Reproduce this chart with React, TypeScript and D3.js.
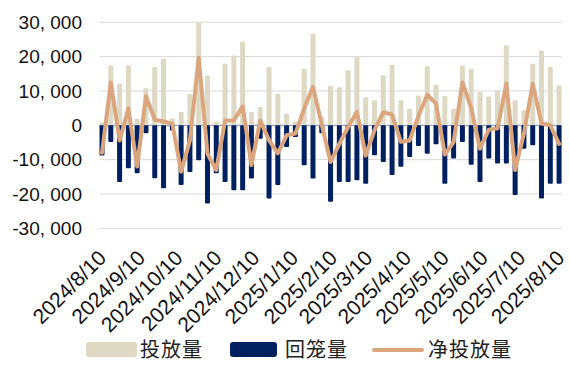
import React, { useEffect, useRef } from 'react';
import * as d3 from 'd3';

// weekly open-market operations, 2024/8 - 2025/8 (亿元)
const injection = [
  800, 17400, 12100, 17400, 2000, 10800, 17000, 19400, 2000, 3900,
  9200, 29900, 14500, 1000, 17900, 20300, 24400, 3900, 5300, 17000,
  9200, 3400, 1000, 16500, 26700, 2500, 11600, 11100, 16000, 19900,
  8200, 7300, 14500, 17600, 7300, 4800, 8700, 17200, 11800, 8500,
  4800, 17400, 16500, 9700, 8400, 10200, 23300, 7300, 4400, 17900,
  21800, 17000, 11600,
];
const withdrawal = [
  -8800, -4900, -16500, -12500, -14000, -2300, -15400, -18300, -1500, -17400,
  -13600, -10200, -22800, -14000, -16500, -18900, -18900, -15500, -3900, -21300,
  -17400, -6300, -3400, -11600, -15500, -2300, -22300, -16500, -16500, -16000,
  -17000, -8700, -10700, -14500, -12100, -9200, -6000, -8300, -5500, -17000,
  -9700, -4900, -11500, -16500, -9700, -11100, -11100, -20300, -6800, -5800,
  -21300, -17000, -17000,
];
const netInjection = [
  -8000, 12500, -4400, 4900, -12000, 8500, 1600, 1100, 500, -13500,
  -4400, 19700, -8300, -13000, 1400, 1400, 5500, -11600, 1400, -4300,
  -8200, -2900, -2400, 4900, 11200, 200, -10700, -5400, -500, 3900,
  -8800, -1400, 3800, 3100, -4800, -4400, 2700, 8900, 6300, -8500,
  -4900, 12500, 5000, -6800, -1300, -900, 12200, -13000, -2400, 12100,
  500, 0, -5400,
];
const tickLabels = [
  '2024/8/10', '2024/9/10', '2024/10/10', '2024/11/10', '2024/12/10',
  '2025/1/10', '2025/2/10', '2025/3/10', '2025/4/10', '2025/5/10',
  '2025/6/10', '2025/7/10', '2025/8/10',
];
const yTicks = [30000, 20000, 10000, 0, -10000, -20000, -30000];

const firstWeek = new Date(2024, 7, 9);
const weeks = injection.map((_, i) => d3.timeDay.offset(firstWeek, i * 7));

export default function App() {
  const svgRef = useRef<SVGSVGElement>(null);

  useEffect(() => {
    if (!svgRef.current) return;
    const svg = d3.select(svgRef.current);
    svg.selectAll('*').remove();

    const left = 99.5;
    const right = 561.6;

    const x = d3.scaleTime()
      .domain([new Date(2024, 7, 7), new Date(2025, 7, 10)])
      .range([left, right]);
    const y = d3.scaleLinear()
      .domain([-30000, 30000])
      .range([228.3, 22.3]);

    const barW = 5;
    const font = 'Liberation Sans, Arial, sans-serif';

    // grid
    svg.append('g')
      .selectAll('line')
      .data(yTicks)
      .enter()
      .append('line')
      .attr('x1', left)
      .attr('x2', right)
      .attr('y1', d => y(d))
      .attr('y2', d => y(d))
      .attr('stroke', d => (d === 0 ? '#7e89a8' : '#d9d9d9'))
      .attr('stroke-width', 1);

    // y labels
    svg.append('g')
      .selectAll('text')
      .data(yTicks)
      .enter()
      .append('text')
      .attr('x', 82)
      .attr('y', d => y(d))
      .attr('dy', '0.35em')
      .attr('text-anchor', 'end')
      .attr('font-family', font)
      .attr('font-size', 19)
      .attr('fill', '#111')
      .text(d => d3.format(',')(d).replace(',', ', ').replace('−', '-'));

    // 投放量
    svg.append('g')
      .selectAll('rect')
      .data(injection)
      .enter()
      .append('rect')
      .attr('x', (d, i) => x(weeks[i]) - barW / 2)
      .attr('y', d => y(d))
      .attr('width', barW)
      .attr('height', d => y(0) - y(d))
      .attr('rx', 1)
      .attr('fill', '#ddd9c4');

    // 回笼量
    svg.append('g')
      .selectAll('rect')
      .data(withdrawal)
      .enter()
      .append('rect')
      .attr('x', (d, i) => x(weeks[i]) - barW / 2)
      .attr('y', y(0))
      .attr('width', barW)
      .attr('height', d => y(d) - y(0))
      .attr('rx', 1)
      .attr('fill', '#002060');

    // 净投放量
    const line = d3.line<number>()
      .x((d, i) => x(weeks[i]))
      .y(d => y(d));
    svg.append('path')
      .datum(netInjection)
      .attr('d', line)
      .attr('fill', 'none')
      .attr('stroke', '#dba67e')
      .attr('stroke-width', 4)
      .attr('stroke-linejoin', 'round')
      .attr('stroke-linecap', 'round');

    // x labels
    const parse = d3.timeParse('%Y/%m/%d');
    svg.append('g')
      .selectAll('text')
      .data(tickLabels)
      .enter()
      .append('text')
      .attr('transform', d => `translate(${x(parse(d) as Date) - 1},254) rotate(-45)`)
      .attr('dy', '0.35em')
      .attr('text-anchor', 'end')
      .attr('font-family', font)
      .attr('font-size', 21)
      .attr('fill', '#111')
      .text(d => d);

    // legend
    const legend = svg.append('g');
    const cjk = 'Noto Sans CJK SC, sans-serif';
    legend.append('rect')
      .attr('x', 86).attr('y', 342).attr('width', 51).attr('height', 15).attr('rx', 3)
      .attr('fill', '#ddd9c4');
    legend.append('text')
      .attr('x', 140).attr('y', 350).attr('dy', '0.35em')
      .attr('font-family', cjk).attr('font-size', 20).attr('letter-spacing', 1).attr('fill', '#222')
      .text('投放量');
    legend.append('rect')
      .attr('x', 230).attr('y', 342).attr('width', 47).attr('height', 15).attr('rx', 3)
      .attr('fill', '#002060');
    legend.append('text')
      .attr('x', 285).attr('y', 350).attr('dy', '0.35em')
      .attr('font-family', cjk).attr('font-size', 20).attr('letter-spacing', 1).attr('fill', '#222')
      .text('回笼量');
    legend.append('line')
      .attr('x1', 374).attr('x2', 422).attr('y1', 350).attr('y2', 350)
      .attr('stroke', '#dba67e').attr('stroke-width', 4).attr('stroke-linecap', 'round');
    legend.append('text')
      .attr('x', 428).attr('y', 350).attr('dy', '0.35em')
      .attr('font-family', cjk).attr('font-size', 20).attr('letter-spacing', 1).attr('fill', '#222')
      .text('净投放量');
  }, []);

  return (
    <svg
      ref={svgRef}
      width={570}
      height={366}
      style={{ position: 'absolute', left: 0, top: 0, background: '#fff', display: 'block' }}
    />
  );
}
